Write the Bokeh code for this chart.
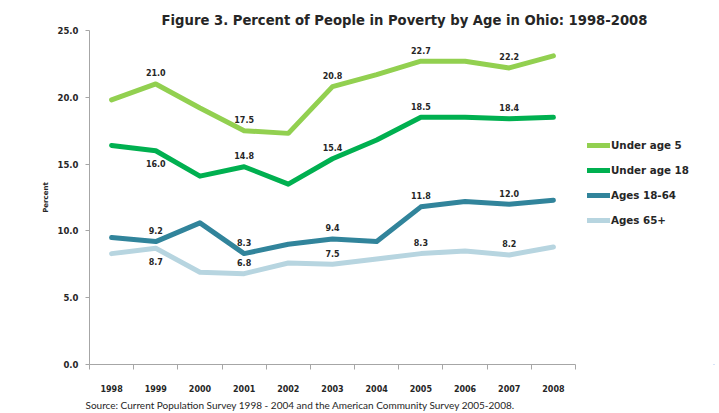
from bokeh.plotting import figure
from bokeh.models import (ColumnDataSource, Range1d, LinearAxis, Title,
                          FixedTicker, PrintfTickFormatter, Legend, LegendItem)
from bokeh.embed import file_html
from bokeh.resources import INLINE

# ---------------- data ----------------
years = ["1998", "1999", "2000", "2001", "2002", "2003", "2004", "2005", "2006", "2007", "2008"]
under5 = [19.8, 21.0, 19.2, 17.5, 17.3, 20.8, 21.7, 22.7, 22.7, 22.2, 23.1]
under18 = [16.4, 16.0, 14.1, 14.8, 13.5, 15.4, 16.8, 18.5, 18.5, 18.4, 18.5]
ages18_64 = [9.5, 9.2, 10.6, 8.3, 9.0, 9.4, 9.2, 11.8, 12.2, 12.0, 12.3]
ages65 = [8.3, 8.7, 6.9, 6.8, 7.6, 7.5, 7.9, 8.3, 8.5, 8.2, 8.8]
series_names = ["Under age 5", "Under age 18", "Ages 18-64", "Ages 65+"]
label_years = ["1999", "2001", "2003", "2005", "2007"]
labels_below = {("Under age 18", "1999"), ("Ages 65+", "1999")}
y_ticks = [0, 5, 10, 15, 20, 25]
title_text = "Figure 3. Percent of People in Poverty by Age in Ohio: 1998-2008"
source_text = "Source: Current Population Survey 1998 - 2004  and the American Community Survey 2005-2008."

colors = ["#92D050", "#00B050", "#31849B", "#B7D5E0"]
series_vals = [under5, under18, ages18_64, ages65]

years_num = [int(y) for y in years]

W, H = 719, 413
FL, FT, FB = 89, 30, 365
PLOT_W = 486  # pixel width of the 11 year slots
x0 = years_num[0] - 0.5
x1 = years_num[-1] + 0.5
x_end = x0 + (x1 - x0) * (W - FL) / PLOT_W  # frame extends right to hold the legend

p = figure(width=W, height=H, output_backend="svg", toolbar_location=None,
           x_range=Range1d(x0, x_end), y_range=Range1d(0, 25),
           x_axis_type=None, y_axis_type=None,
           min_border_left=FL, min_border_right=0, min_border_top=FT, min_border_bottom=H - FB,
           styles={"outline": "2px dotted #5B8FDF", "outline-offset": "-6px"})
p.xgrid.visible = False
p.ygrid.visible = False
p.outline_line_color = None
p.background_fill_color = "white"
p.border_fill_color = "white"

axis_gray = "#A6A6A6"
tick_font = "DejaVu Sans"

p.title.text = title_text
p.title.align = "center"
p.title.offset = -26
p.title.standoff = 6
p.title.text_font = tick_font
p.title.text_font_style = "bold"
p.title.text_font_size = "13.2px"
p.title.text_color = "#262626"

# y axis
yax = LinearAxis(ticker=FixedTicker(ticks=y_ticks), formatter=PrintfTickFormatter(format="%.1f"))
yax.axis_line_color = axis_gray
yax.major_tick_line_color = axis_gray
yax.major_tick_out = 4
yax.major_tick_in = 0
yax.minor_tick_line_color = None
yax.major_label_text_font = tick_font
yax.major_label_text_font_style = "bold"
yax.major_label_text_font_size = "8.5px"
yax.major_label_text_color = "#262626"
yax.major_label_standoff = 7
yax.axis_label = "Percent"
yax.axis_label_text_font = tick_font
yax.axis_label_text_font_style = "bold"
yax.axis_label_text_font_size = "7px"
yax.axis_label_text_color = "#262626"
yax.axis_label_standoff = 5
p.add_layout(yax, "left")

# x tick axis (ticks between the year slots)
xt = LinearAxis(ticker=FixedTicker(ticks=[y - 0.5 for y in years_num] + [years_num[-1] + 0.5]),
                bounds=(x0, x1))
xt.axis_line_color = axis_gray
xt.major_tick_line_color = axis_gray
xt.major_tick_out = 5
xt.major_tick_in = 0
xt.minor_tick_line_color = None
xt.major_label_text_alpha = 0
xt.major_label_text_font_size = "1px"
xt.major_label_standoff = 0
p.add_layout(xt, "below")

# x label axis (year labels centred in the slots)
xl = LinearAxis(ticker=FixedTicker(ticks=years_num), bounds=(x0, x1),
                major_label_overrides={yn: y for yn, y in zip(years_num, years)})
xl.axis_line_color = None
xl.major_tick_line_color = None
xl.minor_tick_line_color = None
xl.major_label_text_font = tick_font
xl.major_label_text_font_style = "bold"
xl.major_label_text_font_size = "8px"
xl.major_label_text_color = "#262626"
xl.major_label_standoff = 9
p.add_layout(xl, "below")

p.add_layout(Title(text=source_text, align="left", offset=-4, standoff=5, text_font="Lato",
                   text_font_style="normal", text_font_size="10px", text_color="#262626"), "below")

items = []
for name, vals, col in zip(series_names, series_vals, colors):
    r = p.line(x=years_num, y=vals, line_color=col, line_width=5, line_join="round", line_cap="round")
    items.append(LegendItem(label=name, renderers=[r]))
    lx, ly, lt, lo = [], [], [], []
    for yr in label_years:
        i = years.index(yr)
        lx.append(years_num[i])
        ly.append(vals[i])
        lt.append("%.1f" % vals[i])
        lo.append(13 if (name, yr) in labels_below else -11)
    src = ColumnDataSource(dict(x=lx, y=ly, t=lt, o=lo))
    p.text(x="x", y="y", text="t", y_offset="o", source=src, text_align="center",
           text_baseline="middle", text_font_size="8px", text_font_style="bold",
           text_color="#262626", text_font={"value": tick_font})

legend = Legend(items=items, location=(498, 138))
legend.glyph_width = 23
legend.glyph_height = 12
legend.label_height = 12
legend.label_standoff = 1
legend.spacing = 13
legend.padding = 0
legend.margin = 0
legend.border_line_color = None
legend.background_fill_alpha = 0
legend.label_text_font = tick_font
legend.label_text_font_style = "bold"
legend.label_text_font_size = "10.3px"
legend.label_text_color = "#262626"
p.add_layout(legend)

open("out.html", "w").write(file_html(p, INLINE))
